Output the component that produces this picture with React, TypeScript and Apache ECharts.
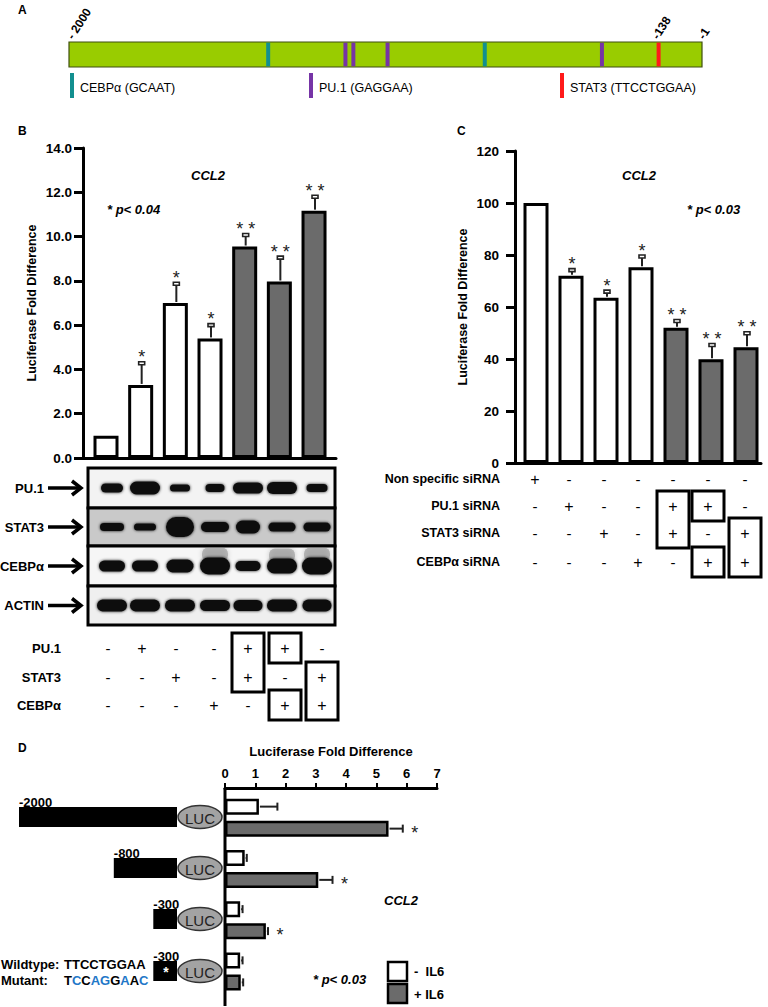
import React, { useEffect, useRef } from 'react';
import * as echarts from 'echarts';

const FONT = '"Liberation Sans", Arial, sans-serif';

// ---------- Panel A: promoter map ----------
const promoterStart = -2000;
const promoterEnd = -1;
const sitePositions = [-1371, -1127, -1102, -994, -687, -317, -138];
const siteTypes = ['CEBPα', 'PU.1', 'PU.1', 'PU.1', 'CEBPα', 'PU.1', 'STAT3'];
const siteNames = ['CEBPα', 'PU.1', 'STAT3'];
const siteLegend = ['CEBPα (GCAAT)', 'PU.1 (GAGGAA)', 'STAT3 (TTCCTGGAA)'];
const siteColors = ['#128f8f', '#7634a6', '#ff1a1a'];
const promoterLabels = ['- 2000', '-138', '-1'];

// ---------- Panel B: overexpression ----------
const bLanes = [1, 2, 3, 4, 5, 6, 7];
const bMeans = [1.0, 3.3, 7.0, 5.4, 9.55, 7.97, 11.17];
const bErrTops = [1.0, 4.28, 7.87, 6.0, 10.07, 9.05, 11.8];
const bStars = ['', '*', '*', '*', '* *', '* *', '* *'];
const bCombined = [false, false, false, false, true, true, true];
const bRowLabels = ['PU.1', 'STAT3', 'CEBPα'];
const bTable = [
  ['-', '+', '-', '-', '+', '+', '-'],
  ['-', '-', '+', '-', '+', '-', '+'],
  ['-', '-', '-', '+', '-', '+', '+'],
];
const bBoxes = [[4, 0, 1], [5, 0, 0], [5, 2, 2], [6, 1, 2]];
const blotLabels = ['PU.1', 'STAT3', 'CEBPα', 'ACTIN'];
// band [width, height] per lane
const blotPU1 = [[22, 9], [30, 13], [20, 7], [19, 8], [30, 11], [30, 12], [21, 8]];
const blotSTAT3 = [[24, 8], [22, 7], [28, 20], [28, 10], [24, 13], [27, 9], [27, 9]];
const blotCEBPA = [[26, 11], [26, 11], [27, 13], [30, 17], [25, 10], [30, 15], [30, 17]];
const blotACTIN = [[30, 12], [30, 12], [30, 12], [30, 11], [29, 11], [30, 12], [29, 12]];
const blotSmear = [0, 0, 0, 1, 0, 1, 1];

// ---------- Panel C: siRNA ----------
const cLanes = [1, 2, 3, 4, 5, 6, 7];
const cMeans = [100, 72, 63.6, 75.3, 52, 39.9, 44.5];
const cErrTops = [100, 74.2, 65.9, 79.4, 54.6, 45.4, 49.9];
const cStars = ['', '*', '*', '*', '* *', '* *', '* *'];
const cCombined = [false, false, false, false, true, true, true];
const cRowLabels = ['Non specific siRNA', 'PU.1 siRNA', 'STAT3 siRNA', 'CEBPα siRNA'];
const cTable = [
  ['+', '-', '-', '-', '-', '-', '-'],
  ['-', '+', '-', '-', '+', '+', '-'],
  ['-', '-', '+', '-', '+', '-', '+'],
  ['-', '-', '-', '+', '-', '+', '+'],
];
const cBoxes = [[4, 1, 2], [5, 1, 1], [5, 3, 3], [6, 2, 3]];

// ---------- Panel D: deletion constructs ----------
const dConstructs = ['-2000', '-800', '-300', '-300'];
const dLengths = [2000, 800, 300, 300];
const dMutant = [false, false, false, true];
const dMinusIL6 = [1.12, 0.65, 0.5, 0.5];
const dMinusIL6Err = [1.73, 0.72, 0.58, 0.58];
const dPlusIL6 = [5.4, 3.08, 1.35, 0.52];
const dPlusIL6Err = [5.87, 3.55, 1.42, 0.6];
const dPlusStars = ['*', '*', '*', ''];
const dTicks = [0, 1, 2, 3, 4, 5, 6, 7];

const GRAY = '#6b6b6b';

function buildOption() {
  const g: any[] = [];
  const text = (x: number, y: number, t: string, o: any = {}) =>
    g.push({
      type: 'text', x, y, rotation: o.rotation || 0, z: 10,
      style: {
        text: t, fill: o.fill || '#000', fontSize: o.size || 13, fontWeight: o.weight || 'bold',
        fontStyle: o.style || 'normal', fontFamily: FONT, align: o.align || 'left',
        verticalAlign: o.va || 'middle', rich: o.rich,
      },
    });
  const rect = (x: number, y: number, w: number, h: number, style: any, r = 0) =>
    g.push({ type: 'rect', z: 10, shape: { x, y, width: w, height: h, r }, style });
  const line = (x1: number, y1: number, x2: number, y2: number, lw = 2, stroke = '#000') =>
    g.push({ type: 'line', z: 10, shape: { x1, y1, x2, y2 }, style: { stroke, lineWidth: lw } });

  // Panel letters
  text(18, 10, 'A', { size: 12 });
  text(18, 131, 'B', { size: 12 });
  text(457, 131, 'C', { size: 12 });
  text(18, 748, 'D', { size: 12 });

  // Panel A labels
  text(70, 38, promoterLabels[0], { size: 12, rotation: 1.0 });
  text(655, 38, promoterLabels[1], { size: 12, rotation: 1.0 });
  text(701, 38, promoterLabels[2], { size: 12, rotation: 1.0 });
  const legendX = [70, 309, 560];
  siteLegend.forEach((t, i) => {
    rect(legendX[i], 73, 4, 25, { fill: siteColors[i] });
    text(legendX[i] + 10, 88, t, { size: 12.5, weight: 'normal' });
  });

  // Panel B texts
  text(208, 175, 'CCL2', { style: 'italic', align: 'center' });
  text(107, 209, '* p< 0.04', { style: 'italic' });
  // Panel C texts
  text(639, 175, 'CCL2', { style: 'italic', align: 'center' });
  text(687, 209, '* p< 0.03', { style: 'italic' });

  // Blot
  const blotLaneX = [112, 145, 180, 215, 248, 282, 317];
  const stripY = [468, 508, 546, 586, 625];
  const stripBg = ['#f3f3f3', '#c9c9c9', '#f6f6f6', '#efefef'];
  const blots = [blotPU1, blotSTAT3, blotCEBPA, blotACTIN];
  for (let s = 0; s < 4; s++) {
    rect(88, stripY[s], 247, stripY[s + 1] - stripY[s], { fill: stripBg[s], stroke: '#000', lineWidth: 3 });
    const cy = (stripY[s] + stripY[s + 1]) / 2;
    blots[s].forEach(([w, h], i) => {
      if (s === 2 && blotSmear[i]) {
        rect(blotLaneX[i] - w / 2 + 2, cy - h / 2 - 10, w - 4, 14, { fill: 'rgba(120,120,120,0.45)', shadowBlur: 5, shadowColor: 'rgba(0,0,0,0.4)' }, 6);
      }
      rect(blotLaneX[i] - w / 2, cy - h / 2, w, h, { fill: '#111', shadowBlur: 3, shadowColor: 'rgba(0,0,0,0.9)' }, h / 2);
    });
    text(44, cy, blotLabels[s], { align: 'right', size: 13 });
    line(48, cy, 80, cy, 3.5);
    g.push({ type: 'polyline', z: 10, shape: { points: [[72, cy - 7], [81, cy], [72, cy + 7]] }, style: { stroke: '#000', lineWidth: 3.5, fill: 'none' } });
  }

  // Tables
  const drawTable = (cols: number[], rows: number[], labels: string[], table: string[][], boxes: number[][], labelX: number, labelSize: number) => {
    labels.forEach((l, r) => {
      text(labelX, rows[r], l, { align: 'right', size: labelSize });
      table[r].forEach((v, c) => text(cols[c], rows[r], v, { align: 'center', size: v === '+' ? 16 : 15, weight: 'normal' }));
    });
    boxes.forEach(([c, r1, r2]) => {
      rect(cols[c] - 16, rows[r1] - 15, 32, rows[r2] - rows[r1] + 30, { fill: 'none', stroke: '#000', lineWidth: 3 });
    });
  };
  drawTable([108, 142, 176, 214, 248, 285, 322], [648, 677, 705], bRowLabels, bTable, bBoxes, 61, 13);
  drawTable([535, 569, 604, 638, 673, 708, 745], [479, 506, 533, 562], cRowLabels, cTable, cBoxes, 500, 12.5);

  // Panel D constructs
  const constructY = [817, 868, 919, 971];
  const pxPerBp = 0.079;
  dConstructs.forEach((lab, i) => {
    const w = dLengths[i] * pxPerBp;
    const y = constructY[i];
    rect(177 - w, y - 10, w, 20, { fill: '#000' });
    text(177 - w, y - 15, lab, { size: 13 });
    g.push({ type: 'ellipse', z: 10, shape: { cx: 200, cy: y, rx: 22, ry: 11.5 }, style: { fill: '#a3a3a3', stroke: '#333', lineWidth: 1.5 } });
    text(200, y + 1, 'LUC', { align: 'center', size: 15, weight: 'normal', fill: '#222' });
    if (dMutant[i]) text(166, y + 1, '*', { align: 'center', size: 14, fill: '#fff' });
  });
  text(1, 964, 'Wildtype:', { size: 13 });
  text(64, 964, 'TTCCTGGAA', { size: 13 });
  text(1, 980, 'Mutant:', { size: 13 });
  const blueRich = { b: { fill: '#1f78c8', fontSize: 13, fontWeight: 'bold', fontFamily: FONT } };
  text(64, 980, 'T{b|C}C{b|AG}G{b|A}A{b|C}', { size: 13, rich: blueRich });
  text(401, 900, 'CCL2', { style: 'italic', align: 'center' });
  text(313, 979, '* p< 0.03', { style: 'italic' });
  rect(388, 962, 19, 19, { fill: '#fff', stroke: '#000', lineWidth: 2.5 });
  rect(388, 984, 19, 19, { fill: GRAY, stroke: '#000', lineWidth: 2.5 });
  text(414, 971, '-  IL6', { size: 13 });
  text(414, 994, '+ IL6', { size: 13 });
  line(225, 788, 225, 1006, 3);

  const axisBase = {
    axisLine: { show: true, onZero: false, lineStyle: { color: '#000', width: 3 } },
    splitLine: { show: false },
  };

  const vertErr = (stars: string[]) => (params: any, api: any) => {
    const lane = api.value(0), mean = api.value(1), top = api.value(2), idx = api.value(3);
    const p0 = api.coord([lane, mean]);
    const p1 = api.coord([lane, top]);
    const ch: any[] = [];
    if (top > mean) {
      ch.push({ type: 'line', shape: { x1: p0[0] + 1, y1: p0[1] - 1, x2: p1[0] + 1, y2: p1[1] }, style: { stroke: '#222', lineWidth: 2 } });
      ch.push({ type: 'rect', shape: { x: p1[0] - 2, y: p1[1] - 1.5, width: 6, height: 3 }, style: { fill: '#fff', stroke: '#222', lineWidth: 1.6 } });
    }
    if (stars[idx]) {
      ch.push({ type: 'text', x: p1[0] + 1, y: p1[1] - 6, style: { text: stars[idx], fontSize: 18, fontFamily: FONT, fill: '#222', align: 'center', verticalAlign: 'middle' } });
    }
    return { type: 'group', children: ch };
  };

  const bMin = 1 - 23 / 34.67;
  const cMin = 1 - 21 / 35;

  return {
    animation: false,
    backgroundColor: '#fff',
    grid: [
      { left: 69, top: 42, width: 633, height: 25, show: true, backgroundColor: '#99cc00', borderColor: '#3f4f10', borderWidth: 1.2 },
      { left: 83, top: 148, width: 253, height: 310 },
      { left: 515, top: 151, width: 246, height: 312 },
      { left: 225, top: 792, width: 212, height: 205 },
    ],
    xAxis: [
      { gridIndex: 0, type: 'value', min: promoterStart, max: promoterEnd, show: false },
      { gridIndex: 1, type: 'value', min: bMin, max: bMin + 253 / 34.67, ...axisBase, axisTick: { show: false }, axisLabel: { show: false } },
      { gridIndex: 2, type: 'value', min: cMin, max: cMin + 246 / 35, ...axisBase, axisTick: { show: false }, axisLabel: { show: false } },
      {
        gridIndex: 3, type: 'value', min: dTicks[0], max: dTicks[dTicks.length - 1], interval: 1, position: 'top', offset: 4, ...axisBase,
        axisTick: { show: true, length: 5, lineStyle: { width: 2, color: '#000' } },
        axisLabel: { margin: 8, color: '#000', fontWeight: 'bold', fontSize: 13, fontFamily: FONT },
        name: 'Luciferase Fold Difference', nameLocation: 'middle', nameGap: 30,
        nameTextStyle: { color: '#000', fontWeight: 'bold', fontSize: 13, fontFamily: FONT },
      },
    ],
    yAxis: [
      { gridIndex: 0, type: 'value', min: 0, max: 1, show: false },
      {
        gridIndex: 1, type: 'value', min: 0, max: 14, interval: 2, ...axisBase,
        axisTick: { show: true, length: 9, lineStyle: { width: 3, color: '#000' } },
        axisLabel: { margin: 11, color: '#000', fontWeight: 'bold', fontSize: 13.5, fontFamily: FONT, formatter: (v: number) => v.toFixed(1) },
        name: 'Luciferase Fold Difference', nameLocation: 'middle', nameGap: 45,
        nameTextStyle: { color: '#000', fontWeight: 'bold', fontSize: 12.5, fontFamily: FONT },
      },
      {
        gridIndex: 2, type: 'value', min: 0, max: 120, interval: 20, ...axisBase,
        axisTick: { show: true, length: 9, lineStyle: { width: 3, color: '#000' } },
        axisLabel: { margin: 16, color: '#000', fontWeight: 'bold', fontSize: 13.5, fontFamily: FONT },
        name: 'Luciferase Fold Difference', nameLocation: 'middle', nameGap: 46,
        nameTextStyle: { color: '#000', fontWeight: 'bold', fontSize: 12.5, fontFamily: FONT },
      },
      { gridIndex: 3, type: 'category', inverse: true, data: dConstructs.map((c, i) => c + (dMutant[i] ? ' mut' : '')), show: false },
    ],
    series: [
      {
        type: 'custom', xAxisIndex: 0, yAxisIndex: 0,
        data: sitePositions.map((p, i) => [p, siteNames.indexOf(siteTypes[i])]),
        renderItem: (params: any, api: any) => {
          const bottom = api.coord([api.value(0), 0]);
          const top = api.coord([api.value(0), 1]);
          return { type: 'rect', shape: { x: bottom[0] - 2, y: top[1] + 0.6, width: 4, height: bottom[1] - top[1] - 1.2 }, style: { fill: siteColors[api.value(1)] } };
        },
      },
      {
        type: 'bar', xAxisIndex: 1, yAxisIndex: 1, barWidth: 25,
        itemStyle: { borderColor: '#000', borderWidth: 3 },
        data: bMeans.map((v, i) => ({ value: [bLanes[i], v], itemStyle: { color: bCombined[i] ? GRAY : '#fff' } })),
      },
      {
        type: 'custom', xAxisIndex: 1, yAxisIndex: 1, z: 5,
        data: bLanes.map((l, i) => [l, bMeans[i], bErrTops[i], i]),
        renderItem: vertErr(bStars),
      },
      {
        type: 'bar', xAxisIndex: 2, yAxisIndex: 2, barWidth: 25,
        itemStyle: { borderColor: '#000', borderWidth: 3 },
        data: cMeans.map((v, i) => ({ value: [cLanes[i], v], itemStyle: { color: cCombined[i] ? GRAY : '#fff' } })),
      },
      {
        type: 'custom', xAxisIndex: 2, yAxisIndex: 2, z: 5,
        data: cLanes.map((l, i) => [l, cMeans[i], cErrTops[i], i]),
        renderItem: vertErr(cStars),
      },
      {
        name: '- IL6', type: 'bar', xAxisIndex: 3, yAxisIndex: 3, barWidth: 16, barGap: '37.5%',
        itemStyle: { color: '#fff', borderColor: '#000', borderWidth: 2.5 },
        data: dMinusIL6,
      },
      {
        name: '+ IL6', type: 'bar', xAxisIndex: 3, yAxisIndex: 3, barWidth: 16, barGap: '37.5%',
        itemStyle: { color: GRAY, borderColor: '#000', borderWidth: 2.5 },
        data: dPlusIL6,
      },
      {
        type: 'custom', xAxisIndex: 3, yAxisIndex: 3, z: 5,
        data: [
          ...dMinusIL6.map((v, i) => [v, i, dMinusIL6Err[i], 0]),
          ...dPlusIL6.map((v, i) => [v, i, dPlusIL6Err[i], 1]),
        ],
        renderItem: (params: any, api: any) => {
          const mean = api.value(0), cat = api.value(1), err = api.value(2), s = api.value(3);
          const p0 = api.coord([mean, cat]);
          const p1 = api.coord([err, cat]);
          const y = p0[1] + (s === 0 ? -11 : 11);
          const ch: any[] = [
            { type: 'line', shape: { x1: p0[0] + 1, y1: y, x2: p1[0], y2: y }, style: { stroke: '#222', lineWidth: 2 } },
            { type: 'line', shape: { x1: p1[0], y1: y - 4, x2: p1[0], y2: y + 4 }, style: { stroke: '#222', lineWidth: 2 } },
          ];
          if (s === 1 && dPlusStars[cat]) {
            ch.push({ type: 'text', x: p1[0] + 12, y: y + 4, style: { text: dPlusStars[cat], fontSize: 18, fontFamily: FONT, fill: '#222', align: 'center', verticalAlign: 'middle' } });
          }
          return { type: 'group', children: ch };
        },
      },
    ],
    graphic: g,
  };
}

export default function App() {
  const ref = useRef<HTMLDivElement>(null);
  useEffect(() => {
    const chart = echarts.init(ref.current!, null, { renderer: 'svg' });
    chart.setOption(buildOption() as any);
    return () => chart.dispose();
  }, []);
  return (
    <div
      ref={ref}
      style={{ position: 'absolute', left: 0, top: 0, width: 768, height: 1007, background: '#fff' }}
    />
  );
}
